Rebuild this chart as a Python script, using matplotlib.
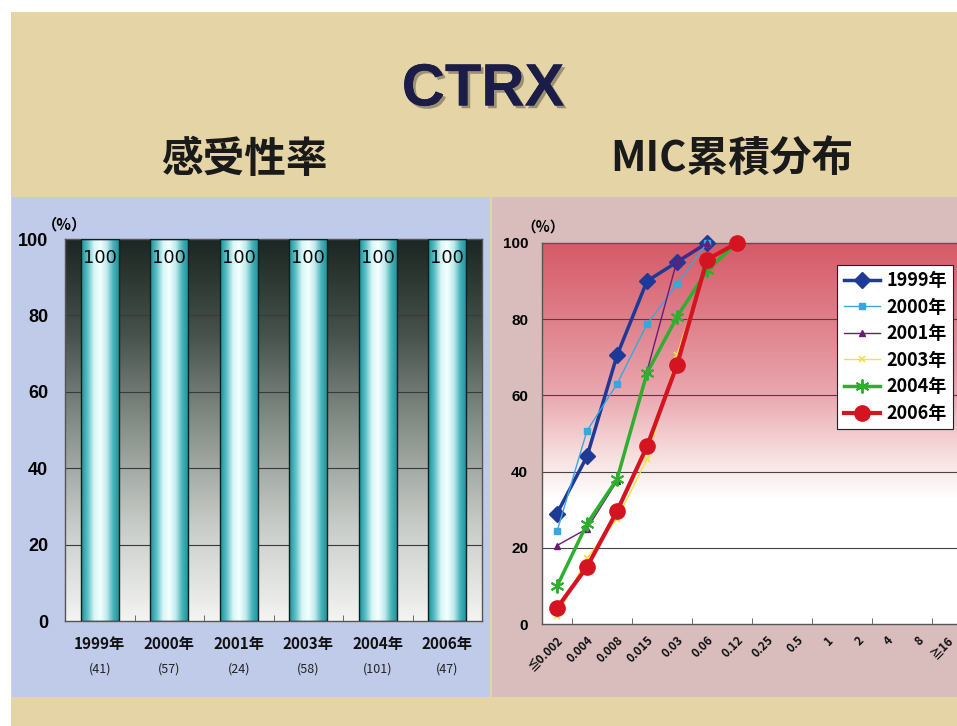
import numpy as np
import matplotlib
matplotlib.use("Agg")
import matplotlib.pyplot as plt
from matplotlib.patches import Rectangle
from matplotlib.colors import LinearSegmentedColormap
from matplotlib.markers import MarkerStyle
import matplotlib.patheffects as pe

plt.rcParams['font.family'] = ['Noto Sans CJK JP', 'DejaVu Sans']

# susceptibility by year
years = ["1999年", "2000年", "2001年", "2003年", "2004年", "2006年"]
counts = ["(41)", "(57)", "(24)", "(58)", "(101)", "(47)"]
rates = [100, 100, 100, 100, 100, 100]

# cumulative MIC distribution
mic_labels = ["≦0.002", "0.004", "0.008", "0.015", "0.03", "0.06", "0.12",
              "0.25", "0.5", "1", "2", "4", "8", "≧16"]
cum_1999 = [29, 44, 70.5, 90, 95, 100]
cum_2000 = [24.3, 50.7, 63, 78.7, 89.2, 100]
cum_2001 = [20.6, 25, 37.5, 66.3, 95.4, 100]
cum_2003 = [2, 17.3, 27.6, 43.3, 70.7, 95, 100]
cum_2004 = [9.9, 26.3, 38, 65.9, 80.6, 92.8, 100]
cum_2006 = [4.2, 15, 29.6, 46.6, 68, 95.6, 100]

num_font = ['Liberation Sans', 'Noto Sans CJK JP']

fig = plt.figure(figsize=(9.57, 7.26), dpi=100)
fig.patch.set_facecolor("white")

# parchment background and the two panels
fig.patches.append(Rectangle((11/957, 0), 1, 1 - 12/726, transform=fig.transFigure,
                             facecolor="#e5d5a6", edgecolor="none", zorder=-10))
fig.patches.append(Rectangle((12/957, 29/726), 478/957, 500/726, transform=fig.transFigure,
                             facecolor="#c0cbea", edgecolor="none", zorder=-9))
fig.patches.append(Rectangle((492/957, 29/726), 470/957, 500/726, transform=fig.transFigure,
                             facecolor="#d9bdbd", edgecolor="none", zorder=-9))

fig.text(483/957, 1 - 90/726, "CTRX", ha="center", va="center", fontsize=43,
         fontweight="bold", family="Liberation Sans", color="#1c1c48",
         path_effects=[pe.withSimplePatchShadow(offset=(2, -2), shadow_rgbFace="#6a6250", alpha=0.6),
                       pe.Normal()])
fig.text(244/957, 1 - 160/726, "感受性率", ha="center", va="center", fontsize=30,
         fontweight="bold", color="#1a1a1a")
fig.text(732/957, 1 - 160/726, "MIC累積分布", ha="center", va="center", fontsize=30,
         fontweight="bold", color="#1a1a1a")

# ---- left: bar chart ----
ax1 = fig.add_axes([65/957, 105/726, 417/957, 382/726])
x = np.arange(len(years))

dark = LinearSegmentedColormap.from_list("bg", ["#f4f4f2", "#c8ccc8", "#8a928c", "#48524c", "#1c2622"])
ax1.imshow(np.linspace(0, 1, 256).reshape(-1, 1), cmap=dark, origin="lower",
           extent=[-0.5, len(years) - 0.5, 0, 100], aspect="auto", zorder=0)
for yv in [20, 40, 60, 80]:
    ax1.axhline(yv, color="#3a3a3a", lw=0.8, zorder=1)

teal = LinearSegmentedColormap.from_list(
    "bar", ["#1a9098", "#5cc0c6", "#d8f6f6", "#f4ffff", "#bfeaec", "#48b2b8", "#1a9098"])
grad = np.linspace(0, 1, 128).reshape(1, -1)
bars = ax1.bar(x, rates, width=0.55, facecolor="none", edgecolor="#102020", lw=1.0, zorder=3)
for b, r in zip(bars, rates):
    im = ax1.imshow(grad, cmap=teal, extent=[b.get_x(), b.get_x() + b.get_width(), 0, r],
                    aspect="auto", zorder=2)
    im.set_clip_path(b)
    ax1.text(b.get_x() + b.get_width() / 2, r - 2.5, f"{r}", ha="center", va="top",
             fontsize=13, color="#0a0a0a", zorder=4, family="DejaVu Sans")
ax1.set_xlim(-0.5, len(years) - 0.5)
ax1.set_ylim(0, 100)

ax1.set_xticks(x)
ax1.set_xticklabels([])
ax1.tick_params(axis="x", length=0)
ax1.set_xticks(np.arange(0.5, len(years) - 0.5), minor=True)
ax1.tick_params(axis="x", which="minor", direction="in", length=4, color="#555555")
for i, (yr, n) in enumerate(zip(years, counts)):
    ax1.text(i, -6, yr, ha="center", va="center", fontsize=11, fontweight="bold",
             clip_on=False, color="#111111")
    ax1.text(i, -12.5, n, ha="center", va="center", fontsize=9,
             clip_on=False, color="#222222")
ax1.set_yticks([0, 20, 40, 60, 80, 100])
ax1.set_yticklabels([str(v) for v in ax1.get_yticks().astype(int)],
                    fontsize=13, fontweight="bold", family=num_font)
ax1.tick_params(axis="y", length=0, pad=12)
for s in ax1.spines.values():
    s.set_color("#555555")
    s.set_linewidth(1)
fig.text(64/957, 1 - 224/726, "（%）", ha="center", va="center", fontsize=11, fontweight="bold")

# ---- right: cumulative MIC lines ----
ax2 = fig.add_axes([542/957, 102/726, 420/957, 381/726])
xm = np.arange(len(mic_labels))

pink = LinearSegmentedColormap.from_list(
    "pk", [(0, "#ffffff"), (0.33, "#ffffff"), (0.45, "#f6dcdc"), (0.6, "#eaa8b0"),
           (0.8, "#de808a"), (1.0, "#d65a68")])
ax2.imshow(np.linspace(0, 1, 256).reshape(-1, 1), cmap=pink, origin="lower",
           extent=[-0.5, len(mic_labels) - 0.5, 0, 100], aspect="auto", zorder=0)
for yv in [20, 40, 60, 80]:
    ax2.axhline(yv, color="#444444", lw=0.8, zorder=1)

asterisk = MarkerStyle((6, 2, 0))
series = [
    ("1999年", cum_1999, dict(color="#1f3a96", lw=2.5, marker="D", ms=8)),
    ("2000年", cum_2000, dict(color="#3aa6e0", lw=1.0, marker="s", ms=5)),
    ("2001年", cum_2001, dict(color="#6c1a78", lw=1.0, marker="^", ms=5)),
    ("2003年", cum_2003, dict(color="#f2e23a", lw=1.0, marker="x", ms=5, mew=1.2)),
    ("2004年", cum_2004, dict(color="#2fae2f", lw=2.5, marker=asterisk, ms=10, mew=1.4)),
    ("2006年", cum_2006, dict(color="#d41420", lw=3.0, marker="o", ms=11)),
]
for label, vals, kw in series:
    ax2.plot(xm[:len(vals)], vals, label=label, zorder=3, clip_on=False, **kw)
ax2.set_xlim(-0.5, len(mic_labels) - 0.5)
ax2.set_ylim(0, 100)

ax2.set_xticks(xm)
ax2.set_xticklabels(mic_labels, rotation=45, ha="right", rotation_mode="anchor",
                    fontsize=8.5, fontweight="bold", color="#111111")
ax2.tick_params(axis="x", length=0, pad=7)
ax2.set_xticks(np.arange(0.5, len(mic_labels) - 0.5, 2), minor=True)
ax2.tick_params(axis="x", which="minor", direction="in", length=4, color="#555555")
ax2.set_yticks([0, 20, 40, 60, 80, 100])
ax2.set_yticklabels([str(v) for v in ax2.get_yticks().astype(int)],
                    fontsize=11, fontweight="bold", family=num_font)
ax2.tick_params(axis="y", length=0, pad=10)
for s in ax2.spines.values():
    s.set_color("#555555")
    s.set_linewidth(1)
fig.text(543/957, 1 - 227/726, "（%）", ha="center", va="center", fontsize=10.5, fontweight="bold")

leg = ax2.legend(loc="upper left", bbox_to_anchor=(0.703, 0.943), fontsize=13,
                 frameon=True, fancybox=False, framealpha=1, edgecolor="#222222",
                 handlelength=2.0, handletextpad=0.35, labelspacing=0.42, borderpad=0.35,
                 borderaxespad=0)
leg.get_frame().set_linewidth(0.8)
for t in leg.get_texts():
    t.set_fontweight("bold")

fig.savefig("out.png", dpi=100)
